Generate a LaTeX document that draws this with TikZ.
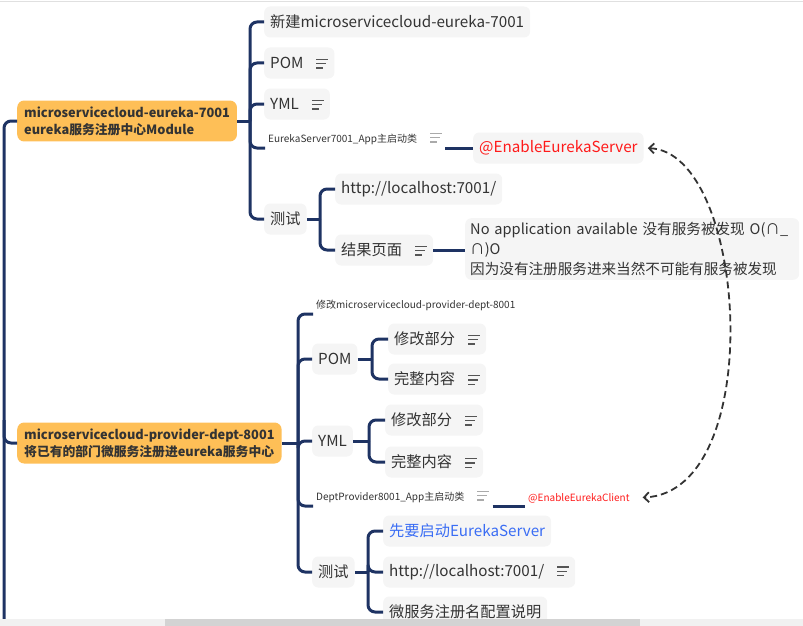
\documentclass[tikz,border=0pt]{standalone}
\usepackage{fontspec}
\setmainfont{Noto Sans CJK SC}
\usepackage{tikz}
\usetikzlibrary{arrows.meta}
\definecolor{linenavy}{HTML}{1E3363}
\definecolor{rootorange}{HTML}{FEBF57}
\definecolor{boxgray}{HTML}{F5F5F5}
\definecolor{txtgray}{HTML}{333333}
\definecolor{notegray}{HTML}{555555}
\definecolor{notelight}{HTML}{AAAAAA}
\definecolor{annored}{HTML}{FF1A1A}
\definecolor{annoblue}{HTML}{3A6DF4}
\definecolor{barlight}{HTML}{F1F1F1}
\definecolor{bardark}{HTML}{D3D3D3}
\newcommand{\noteicon}[1][notegray]{\hspace{13pt}{\color{#1}\vbox{\hrule width 12pt height 1.3pt \vskip 3pt \hrule width 10pt height 1.3pt \vskip 3pt \hrule width 7pt height 1.3pt}}}
\tikzstyle{topic} = [fill=boxgray, rounded corners=6pt, text=txtgray,
    font=\fontsize{15.2}{18}\selectfont, inner xsep=6pt, minimum height=31pt, anchor=west]
\tikzstyle{rootbox} = [fill=rootorange, rounded corners=7pt, text=txtgray,
    font=\bfseries\fontsize{12.8}{17}\selectfont, align=left, inner xsep=7pt, inner ysep=6pt, anchor=west]
\tikzstyle{smalltext} = [text=txtgray, font=\fontsize{10}{12}\selectfont, inner sep=3pt, anchor=south west]
\tikzstyle{line} = [draw=linenavy, line width=3pt, rounded corners=7pt]
\tikzstyle{link} = [draw=txtgray, line width=1.8pt, dash pattern=on 7pt off 4pt,
    {Straight Barb[length=5pt,width=10pt]}-{Straight Barb[length=5pt,width=10pt]}]
\begin{document}
\begin{tikzpicture}[x=1pt, y=-1pt]
  \useasboundingbox (0,0) rectangle (803,626);
  \coordinate (trunkbot) at (4,626);
  % nodes
  \node [rootbox](eureka) at (17,121){microservicecloud-eureka-7001\\eureka服务注册中心Module};
  \node [topic](newmod) at (264,22){新建microservicecloud-eureka-7001};
  \node [topic](epom) at (264,63){POM\noteicon};
  \node [topic](eyml) at (264,104){YML\noteicon};
  \node [smalltext](eapp) at (265,148){EurekaServer7001\_App主启动类\noteicon[notelight]};
  \node [topic, text=annored](eserver) at (473,148){@EnableEurekaServer};
  \node [topic](etest) at (264,219){测试};
  \node [topic](eurl) at (335,189){http://localhost:7001/};
  \node [topic](eresult) at (335,250){结果页面\noteicon};
  \node [topic, align=left, text width=324pt, font=\fontsize{14.6}{20}\selectfont, inner xsep=5pt, inner ysep=4pt](enone) at (465,249)
    {No application available 没有服务被发现 O(∩\_\\∩)O\\因为没有注册服务进来当然不可能有服务被发现};
  \node [rootbox](provider) at (17,443){microservicecloud-provider-dept-8001\\将已有的部门微服务注册进eureka服务中心};
  \node [smalltext](pmod) at (313,314){修改microservicecloud-provider-dept-8001};
  \node [topic](ppom) at (312,359){POM};
  \node [topic](ppompart) at (388,339){修改部分\noteicon};
  \node [topic](ppomfull) at (388,379){完整内容\noteicon};
  \node [topic](pyml) at (312,441){YML};
  \node [topic](pymlpart) at (385,420){修改部分\noteicon};
  \node [topic](pymlfull) at (385,462){完整内容\noteicon};
  \node [smalltext](papp) at (313,506){DeptProvider8001\_App主启动类\noteicon[notelight]};
  \node [smalltext, text=annored](pclient) at (525,506){@EnableEurekaClient};
  \node [topic](ptest) at (312,572){测试};
  \node [topic, text=annoblue](pfirst) at (383,531){先要启动EurekaServer};
  \node [topic](purl) at (383,572){http://localhost:7001/\noteicon};
  \node [topic](pname) at (383,612){微服务注册名配置说明};
  % edges
  \path [line] (eureka.west) -| (trunkbot);
  \path [line] (4,420) |- (provider.west);
  \path [line] (eureka.east) -- (250,121);
  \foreach \c in {newmod,epom,eyml,etest}
    \path [line] (250,121) |- (\c.west);
  \path [line] (250,121) |- (eapp.south west);
  \path [line] (eapp.south east) -- (eserver.west);
  \path [line] (etest.east) -- (320,219);
  \foreach \c in {eurl,eresult}
    \path [line] (320,219) |- (\c.west);
  \path [line] (eresult.east) -- (eresult.east -| enone.west);
  \path [line] (provider.east) -- (298,443);
  \foreach \c in {ppom,pyml,ptest}
    \path [line] (298,443) |- (\c.west);
  \foreach \c in {pmod,papp}
    \path [line] (298,443) |- (\c.south west);
  \path [line] (ppom.east) -- (372,359);
  \foreach \c in {ppompart,ppomfull}
    \path [line] (372,359) |- (\c.west);
  \path [line] (pyml.east) -- (369,441);
  \foreach \c in {pymlpart,pymlfull}
    \path [line] (369,441) |- (\c.west);
  \path [line] (papp.south east) -- (pclient.south west);
  \path [line] (ptest.east) -- (368,572);
  \foreach \c in {pfirst,purl,pname}
    \path [line] (368,572) |- (\c.west);
  \path [link, shorten <=4pt, shorten >=10pt] (eserver.east) .. controls (748,152) and (768,492) .. (pclient.east);
  % frame
  \draw[draw=black!12, line width=1.5pt] (0,1.5) -- (803,1.5);
  \fill[barlight] (0,619) rectangle (803,626);
  \fill[bardark] (165,619) rectangle (640,626);
\end{tikzpicture}
\end{document}
